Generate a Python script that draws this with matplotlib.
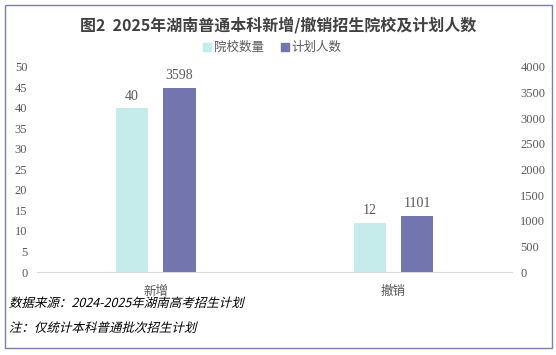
import matplotlib.pyplot as plt
import numpy as np
from matplotlib.patches import Rectangle
from matplotlib.patheffects import AbstractPathEffect
from matplotlib.transforms import Affine2D

categories = ['新增', '撤销']
schools = [40, 12]
plans = [3598, 1101]
left_ticks = [0, 5, 10, 15, 20, 25, 30, 35, 40, 45, 50]
right_ticks = [0, 500, 1000, 1500, 2000, 2500, 3000, 3500, 4000]

cjk = ['Noto Sans CJK SC', 'DejaVu Sans']
serif = ['Liberation Serif', 'DejaVu Serif']
c_school = '#C5EBEA'
c_plan = '#7376AE'
grey = '#595959'


# fake italic for CJK font (no italic face available)
class Slant(AbstractPathEffect):
    def draw_path(self, renderer, gc, tpath, affine, rgbFace=None):
        renderer.draw_path(gc, tpath, Affine2D().skew_deg(14, 0) + affine, rgbFace)


fig = plt.figure(figsize=(5.56, 3.55), dpi=100)
ax = fig.add_axes([0.0665, 0.2338, 0.8545, 0.5775])
ax2 = ax.twinx()

x = np.arange(len(categories))
w = 0.135
off = 0.1
ax.bar(x - off, schools, w, color=c_school, zorder=2)
ax2.bar(x + off, plans, w, color=c_plan, zorder=2)

for i in range(len(categories)):
    ax.text(x[i] - off, schools[i] + 1.3, str(schools[i]), ha='center', va='bottom',
            family=serif, fontsize=10, color=grey)
    ax2.text(x[i] + off, plans[i] + 104, str(plans[i]), ha='center', va='bottom',
             family=serif, fontsize=10, color=grey)

ax.set_xlim(-0.5, 1.5)
ax.set_ylim(0, 50)
ax2.set_ylim(0, 4000)
ax.set_yticks(left_ticks)
ax2.set_yticks(right_ticks)
ax.set_xticks(x)
ax.set_xticklabels(categories, family=cjk, fontsize=8, color=grey)
for a in (ax, ax2):
    for s in a.spines.values():
        s.set_visible(False)
    a.tick_params(length=0, labelsize=9, colors=grey)
ax.spines['bottom'].set_visible(True)
ax.spines['bottom'].set_color('#D9D9D9')
for lab in ax.get_yticklabels() + ax2.get_yticklabels():
    lab.set_family(serif)
ax.tick_params(axis='y', pad=7)
ax2.tick_params(axis='y', pad=6)
ax.tick_params(axis='x', pad=9)

fig.text(0.5, 0.928, '图2  2025年湖南普通本科新增/撤销招生院校及计划人数', ha='center', va='center',
         family=cjk, fontsize=11.5, fontweight='bold', color='#404040')

# legend
lx = 0.365
fig.patches.append(Rectangle((lx, 0.855), 0.015, 0.023, transform=fig.transFigure, color=c_school))
fig.text(lx + 0.02, 0.866, '院校数量', family=cjk, fontsize=9, color=grey, va='center')
lx2 = 0.505
fig.patches.append(Rectangle((lx2, 0.855), 0.015, 0.023, transform=fig.transFigure, color=c_plan))
fig.text(lx2 + 0.02, 0.866, '计划人数', family=cjk, fontsize=9, color=grey, va='center')

t1 = fig.text(0.016, 0.145, '数据来源：2024-2025年湖南高考招生计划', family=cjk, fontsize=9,
              color='black', va='center')
t2 = fig.text(0.016, 0.075, '注：仅统计本科普通批次招生计划', family=cjk, fontsize=9,
              color='black', va='center')
for t in (t1, t2):
    t.set_path_effects([Slant()])

fig.patches.append(Rectangle((0.009, 0.02), 0.984, 0.966, transform=fig.transFigure,
                             fill=False, edgecolor='#7B7FB0', linewidth=1))

fig.savefig('out.png', dpi=100)
